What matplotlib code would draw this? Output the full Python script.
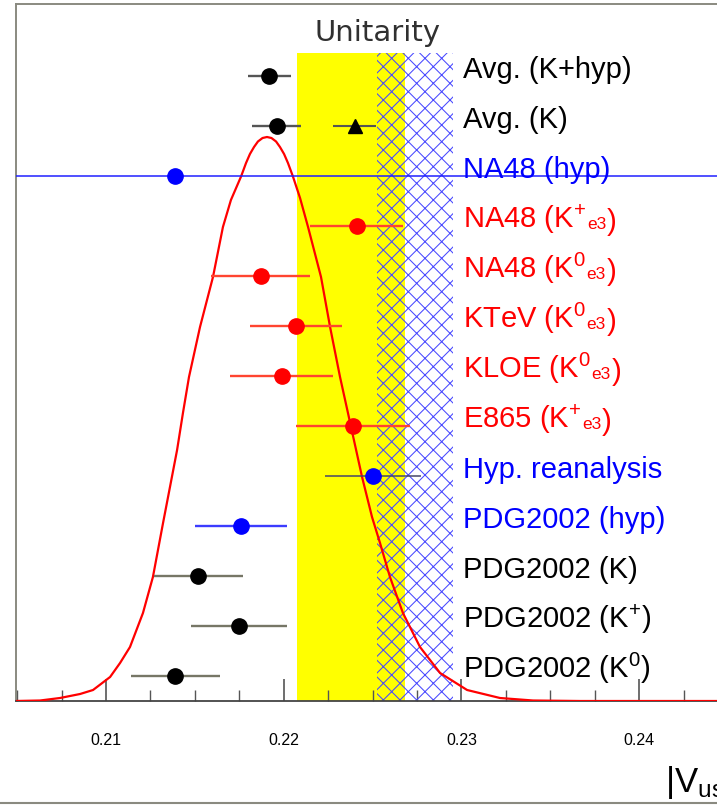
import matplotlib
matplotlib.use("Agg")
import matplotlib.pyplot as plt
from matplotlib.lines import Line2D
from matplotlib.ticker import MultipleLocator

plt.rcParams['font.family'] = ['Liberation Sans', 'DejaVu Sans']
plt.rcParams['mathtext.fontset'] = 'custom'
plt.rcParams['mathtext.rm'] = 'Liberation Sans'
plt.rcParams['mathtext.it'] = 'Liberation Sans:italic'
plt.rcParams['mathtext.sf'] = 'Liberation Sans'
plt.rcParams['mathtext.default'] = 'regular'
plt.rcParams['hatch.linewidth'] = 0.75

# ---- measurements of |Vus|, listed from the bottom row upwards ----
label_main = ["PDG2002 (K$^{0}$)", "PDG2002 (K$^{+}$)", "PDG2002 (K)",
              "PDG2002 (hyp)", "Hyp. reanalysis", "E865 (K$^{+}$",
              "KLOE (K$^{0}$", "KTeV (K$^{0}$", "NA48 (K$^{0}$",
              "NA48 (K$^{+}$", "NA48 (hyp)", "Avg. (K)", "Avg. (K+hyp)"]
label_sub = ["", "", "", "", "", "e3", "e3", "e3", "e3", "e3", "", "", ""]
vus = [0.2139, 0.2175, 0.2152, 0.2176, 0.2250, 0.2239, 0.2199,
       0.2207, 0.2187, 0.2241, 0.2139, 0.2196, 0.2192]
vus_err = [0.0025, 0.0027, 0.0025, 0.0026, 0.0027, 0.0032, 0.0029,
           0.0026, 0.0028, 0.0026, 0.0400, 0.0014, 0.0012]
point_color = ["black", "black", "black", "#0000ff", "#0000ff", "#ff0000",
               "#ff0000", "#ff0000", "#ff0000", "#ff0000", "#0000ff",
               "black", "black"]
bar_color = ["#767666", "#767666", "#767666", "#3c3cff", "#46466a",
             "#ff4530", "#ff4530", "#ff4530", "#ff4530", "#ff4530",
             "#2020ff", "#555555", "#555555"]
text_color = ["black", "black", "black", "#0000ff", "#0000ff", "#ff0000",
              "#ff0000", "#ff0000", "#ff0000", "#ff0000", "#0000ff",
              "black", "black"]

# unitarity prediction drawn as a triangle on the Avg. (K) row
tri_row = 12
tri_vus = 0.2240
tri_err = 0.0012

# unitarity bands
unit_yellow = [0.22075, 0.22683]
unit_hatch = [0.22525, 0.22953]

# ideogram of the kaon measurements (arbitrary height units)
curve_vus = [0.20488, 0.20629, 0.20741, 0.20854, 0.20927, 0.21023, 0.21079,
             0.21135, 0.21208, 0.21264, 0.21321, 0.21360, 0.21400, 0.21433,
             0.21467, 0.21529, 0.21602, 0.21658, 0.21703, 0.21760, 0.21788,
             0.21810, 0.21833, 0.21855, 0.21881, 0.21906, 0.21931, 0.21957,
             0.21979, 0.22002, 0.22024, 0.22052, 0.22092, 0.22137,
             0.22210, 0.22261, 0.22317, 0.22379, 0.22441, 0.22497, 0.22542,
             0.22598, 0.22671, 0.22767, 0.22880, 0.23032, 0.23217, 0.23403,
             0.23667, 0.24438]
curve_height = [0.50, 0.51, 0.56, 0.64, 0.72, 0.98, 1.26,
                1.58, 2.26, 2.98, 4.06, 4.78, 5.52, 6.26,
                6.98, 7.98, 8.98, 9.98, 10.52, 10.99, 11.26,
                11.44, 11.58, 11.69, 11.76, 11.78, 11.76, 11.69,
                11.58, 11.44, 11.26, 10.99, 10.56, 9.98,
                8.98, 7.98, 6.98, 5.98, 4.98, 4.18, 3.66,
                2.98, 2.26, 1.58, 1.06, 0.72, 0.56, 0.51,
                0.50, 0.50]

tick_values = [0.21, 0.22, 0.23, 0.24]
tick_labels = ["0.21", "0.22", "0.23", "0.24"]

fig = plt.figure(figsize=(7.17, 8.06), dpi=100)
ax = fig.add_axes([16 / 717, 105 / 806, 1 - 16 / 717, 697 / 806])
ax.set_xlim(0.204935, 0.244384)
ax.set_ylim(0.5, 14.44)

band_top = 13.46
ax.fill_between(unit_yellow, 0.5, band_top, color="#ffff00", lw=0, zorder=1)
ax.fill_between(unit_hatch, 0.5, band_top, facecolor="none",
                edgecolor="#4848ff", hatch="xx", lw=0, zorder=2)
ax.text(0.2253, 13.86, "Unitarity", ha="center", va="center", fontsize=21,
        family="DejaVu Sans", color="#303030", zorder=6)

ax.plot(curve_vus, curve_height, color="#ff0000", lw=1.6, zorder=3)

rows = list(range(1, len(vus) + 1))
for r, v, e, pc, bc in zip(rows, vus, vus_err, point_color, bar_color):
    lw = 1.1 if r in (5, 11) else 1.7
    ax.errorbar([v], [r], xerr=[e], fmt="none", ecolor=bc, elinewidth=lw,
                capsize=0, zorder=4)
    ax.plot([v], [r], "o", color=pc, markersize=11, zorder=5)

ax.errorbar([tri_vus], [tri_row], xerr=[tri_err], fmt="none", ecolor="#555555",
            elinewidth=1.5, capsize=0, zorder=4)
ax.plot([tri_vus], [tri_row], "^", color="black", markersize=10, zorder=5)

label_x = 0.2301
for r, main, sub, col in zip(rows, label_main, label_sub, text_color):
    t = ax.text(label_x, r - 0.03, main, color=col, fontsize=21,
                ha="left", va="baseline", zorder=6)
    if sub:
        s = ax.annotate(sub, xy=(1, 0), xycoords=t, xytext=(0.5, 2.6),
                        textcoords="offset points", fontsize=12.5, color=col,
                        ha="left", va="bottom", zorder=6)
        ax.annotate(")", xy=(1, 0), xycoords=(s, t), xytext=(0.5, 0),
                    textcoords="offset points", fontsize=21, color=col,
                    ha="left", va="bottom", zorder=6)

ax.set_xticks(tick_values)
ax.set_xticklabels(tick_labels)
ax.xaxis.set_minor_locator(MultipleLocator(0.0025))
ax.tick_params(axis="x", which="major", direction="in", length=16, width=1.2,
               color="#555555", pad=23, labelsize=11.5, top=False)
ax.tick_params(axis="x", which="minor", direction="in", length=8, width=1.0,
               color="#555555", top=False)
ax.set_yticks([])

for side in ("left", "top"):
    ax.spines[side].set_color("#8a8a80")
    ax.spines[side].set_linewidth(1.4)
ax.spines["bottom"].set_color("#444444")
ax.spines["bottom"].set_linewidth(1.3)
ax.spines["right"].set_visible(False)

fig.text(665 / 717, (806 - 792) / 806, r"|V$_{us}$|", fontsize=25,
         ha="left", va="baseline")
fig.add_artist(Line2D([0, 1], [3 / 806, 3 / 806], color="#8a8a80", lw=1.5))

fig.savefig("out.png", dpi=100)
